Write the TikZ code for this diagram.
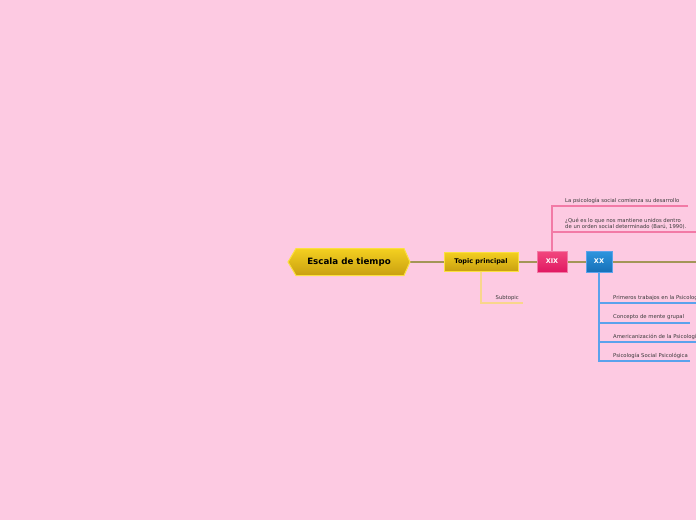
\documentclass[tikz,border=0pt]{standalone}
\usepackage{fontspec}
\setmainfont{DejaVu Sans}
\definecolor{bgPink}{HTML}{FDCAE2}
\definecolor{colConn}{HTML}{A39557}
\definecolor{yelTop}{HTML}{F4D020}
\definecolor{yelBot}{HTML}{C9A010}
\definecolor{yelBorder}{HTML}{FBE040}
\definecolor{pinkTop}{HTML}{F2487E}
\definecolor{pinkBot}{HTML}{E01862}
\definecolor{pinkLine}{HTML}{F27AA6}
\definecolor{blueTop}{HTML}{2E95DE}
\definecolor{blueBot}{HTML}{1670B8}
\definecolor{blueLine}{HTML}{5AA2EC}
\definecolor{subLine}{HTML}{F9D68C}
\definecolor{txtGray}{HTML}{3A3A3A}
\tikzset{
  mainconn/.style={draw=colConn, line width=2pt},
  pinkbranch/.style={draw=pinkLine, line width=1.1pt},
  bluebranch/.style={draw=blueLine, line width=1.1pt},
  subbranch/.style={draw=subLine, line width=1.1pt},
  leaf/.style={anchor=south west, inner sep=0pt, font=\fontsize{5.3}{6.3}\selectfont, text=txtGray, align=left},
  topicbox/.style={draw=yelBorder, line width=1pt, top color=yelTop, bottom color=yelBot, minimum width=74pt, minimum height=19pt, inner sep=0pt, font=\bfseries\fontsize{6.5}{7}\selectfont, text=black},
  xixbox/.style={draw=pinkLine, line width=1pt, top color=pinkTop, bottom color=pinkBot, minimum width=30pt, minimum height=21pt, inner sep=0pt, font=\bfseries\fontsize{6.5}{7}\selectfont, text=white},
  xxbox/.style={draw=blueLine, line width=1pt, top color=blueTop, bottom color=blueBot, minimum width=26pt, minimum height=21pt, inner sep=0pt, font=\bfseries\fontsize{6.5}{7}\selectfont, text=white}
}
\begin{document}
\begin{tikzpicture}[x=1pt,y=-1pt]
\useasboundingbox (0,0) rectangle (696,520);
\clip (0,0) rectangle (696,520);
\fill[bgPink] (0,0) rectangle (696,520);
% connectors first (behind nodes)
\coordinate (mainR) at (410,262);
\coordinate (rightEnd) at (700,262);
\coordinate (tpW) at (444,262);
\coordinate (tpE) at (518,262);
\coordinate (xixW) at (537,262);
\coordinate (xixE) at (567,262);
\coordinate (xxW) at (586,262);
\coordinate (xxE) at (612,262);
\draw[mainconn] (mainR) -- (tpW);
\draw[mainconn] (tpE) -- (xixW);
\draw[mainconn] (xixE) -- (xxW);
\draw[mainconn] (xxE) -- (rightEnd);
% main hexagon
\shade[top color=yelTop, bottom color=yelBot, draw=yelBorder, line width=1pt]
  (288,262) -- (296,248.5) -- (404,248.5) -- (410,262) -- (404,275.5) -- (296,275.5) -- cycle;
\node[inner sep=0pt, font=\bfseries\fontsize{8.7}{10}\selectfont, text=black] (main) at (349,262) {Escala de tiempo};
% nodes
\node[topicbox] (tp) at (481,261.5) {Topic principal};
\node[xixbox] (xix) at (552,261.5) {XIX};
\node[xxbox] (xx) at (599,261.5) {XX};
% subtopic
\coordinate (s1) at (523,303);
\draw[subbranch] (tp.south) |- (s1);
\node[leaf, anchor=south east] (sub) at (519,300.5) {Subtopic};
% XIX branches
\coordinate (p1) at (688,206);
\coordinate (p2) at (700,232);
\coordinate (p2s) at (552,232);
\draw[pinkbranch] (xix.north) |- (p1);
\draw[pinkbranch] (p2s) -- (p2);
\node[leaf] (t1) at (565,203.5) {La psicología social comienza su desarrollo};
\node[leaf] (t2) at (565,229.5) {¿Qué es lo que nos mantiene unidos dentro\\de un orden social determinado (Barú, 1990).};
% XX branches
\coordinate (b1) at (700,303);
\coordinate (b2) at (690,323);
\coordinate (b3) at (700,342);
\coordinate (b4) at (690,361);
\coordinate (b1s) at (599,303);
\coordinate (b2s) at (599,323);
\coordinate (b3s) at (599,342);
\draw[bluebranch] (xx.south) |- (b4);
\draw[bluebranch] (b1s) -- (b1);
\draw[bluebranch] (b2s) -- (b2);
\draw[bluebranch] (b3s) -- (b3);
\node[leaf] (u1) at (613,300.5) {Primeros trabajos en la Psicología Social};
\node[leaf] (u2) at (613,320) {Concepto de mente grupal};
\node[leaf] (u3) at (613,340) {Americanización de la Psicología Social};
\node[leaf] (u4) at (613,358.5) {Psicología Social Psicológica};
\end{tikzpicture}
\end{document}
